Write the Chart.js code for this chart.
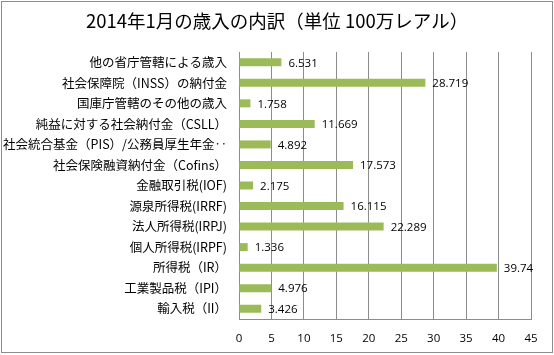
<!DOCTYPE html>
<html><head><meta charset="utf-8">
<script src="https://cdn.jsdelivr.net/npm/chart.js@4"></script>
<style>html,body{margin:0;padding:0;background:#fff;}#w{width:554px;height:355px;}</style>
</head><body><div id="w"><canvas id="c" width="554" height="355"></canvas></div>
<script>
const titleText = "2014年1月の歳入の内訳（単位 100万レアル）";
const categories = [
  "他の省庁管轄による歳入",
  "社会保障院（INSS）の納付金",
  "国庫庁管轄のその他の歳入",
  "純益に対する社会納付金（CSLL）",
  "社会統合基金（PIS）/公務員厚生年金‥",
  "社会保険融資納付金（Cofins）",
  "金融取引税(IOF)",
  "源泉所得税(IRRF)",
  "法人所得税(IRPJ)",
  "個人所得税(IRPF)",
  "所得税（IR）",
  "工業製品税（IPI）",
  "輸入税（II）"
];
const values = [6.531, 28.719, 1.758, 11.669, 4.892, 17.573, 2.175, 16.115, 22.289, 1.336, 39.74, 4.976, 3.426];
const labels = ["6.531", "28.719", "1.758", "11.669", "4.892", "17.573", "2.175", "16.115", "22.289", "1.336", "39.74", "4.976", "3.426"];
const xTicks = [0, 5, 10, 15, 20, 25, 30, 35, 40, 45];

const framePlugin = {
  id: 'frame',
  afterDraw(chart) {
    const ctx = chart.ctx;
    ctx.save();
    ctx.strokeStyle = '#8c8c8c';
    ctx.lineWidth = 1;
    ctx.strokeRect(1.5, 1.5, 551, 351);
    ctx.font = '18.5px "Noto Sans CJK JP", sans-serif';
    ctx.fillStyle = '#000';
    ctx.textAlign = 'left';
    ctx.textBaseline = 'middle';
    ctx.fillText(titleText, 86, 21);
    ctx.restore();
  }
};
const valueLabels = {
  id: 'valueLabels',
  afterDatasetsDraw(chart) {
    const ctx = chart.ctx;
    const meta = chart.getDatasetMeta(0);
    ctx.save();
    ctx.font = '11.5px "Open Sans", sans-serif';
    ctx.fillStyle = '#000';
    ctx.textAlign = 'left';
    ctx.textBaseline = 'middle';
    meta.data.forEach((bar, i) => {
      ctx.fillText(labels[i], bar.x + 7, bar.y + 1);
    });
    ctx.restore();
  }
};

new Chart(document.getElementById('c'), {
  type: 'bar',
  data: {
    labels: categories,
    datasets: [{ data: values, backgroundColor: '#9bbb59', borderWidth: 0, barPercentage: 0.39, categoryPercentage: 1 }]
  },
  options: {
    indexAxis: 'y',
    responsive: false,
    animation: false,
    devicePixelRatio: 1,
    layout: { padding: { left: 0, right: 23, top: 52, bottom: 0 } },
    plugins: {
      legend: { display: false },
      tooltip: { enabled: false },
      title: { display: false }
    },
    scales: {
      x: {
        min: 0, max: 45,
        afterBuildTicks(s) { s.ticks = xTicks.map(v => ({ value: v })); },
        afterFit(s) { s.height = 36; },
        grid: { color: '#8c8c8c', drawTicks: false },
        border: { color: '#8c8c8c' },
        ticks: { padding: 13, color: '#000', font: { family: '"Open Sans", sans-serif', size: 11.5 } }
      },
      y: {
        afterFit(s) { s.width = 239; },
        grid: { display: false, drawTicks: false },
        border: { color: '#8c8c8c' },
        ticks: { padding: 12, color: '#000', autoSkip: false, font: { family: '"Noto Sans CJK JP", sans-serif', size: 12.5 } }
      }
    }
  },
  plugins: [framePlugin, valueLabels]
});
</script>
</body></html>
